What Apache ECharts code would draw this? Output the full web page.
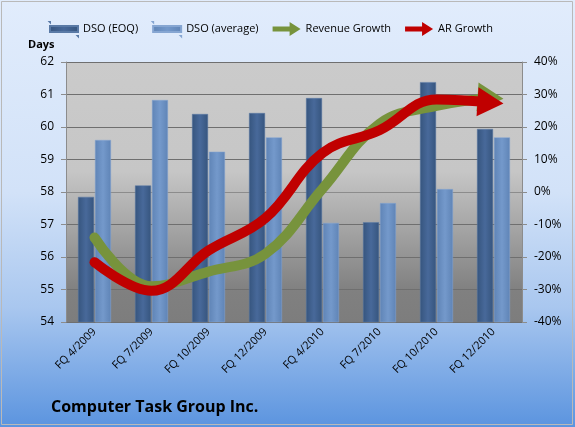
<!DOCTYPE html>
<html>
<head>
<meta charset="utf-8">
<script src="https://cdn.jsdelivr.net/npm/echarts@6/dist/echarts.min.js"></script>
<style>
  html, body { margin: 0; padding: 0; }
  #main { width: 575px; height: 427px; }
</style>
</head>
<body>
<div id="main"></div>
<script>
// 数据
const quarters = ['FQ 4/2009', 'FQ 7/2009', 'FQ 10/2009', 'FQ 12/2009', 'FQ 4/2010', 'FQ 7/2010', 'FQ 10/2010', 'FQ 12/2010']
const dsoEoq = [57.85, 58.2, 60.4, 60.43, 60.89, 57.07, 61.38, 59.94]
const dsoAvg = [59.6, 60.83, 59.24, 59.68, 57.05, 57.66, 58.09, 59.68]
const revenueGrowth = [-14, -29, -24.5, -19, 1, 21, 26.5, 29]
const arGrowth = [-21.6, -30.4, -18, -8, 12, 19, 28.5, 27.5]

const font = 'Open Sans'
const arrowPath = 'path://M0,0L26,14.5L0,29Z'

// 第一个点画圆头，最后一个点画箭头
function withEnds(values) {
  return values.map((v, i) => {
    if (i === 0) return { value: v, symbol: 'circle', symbolSize: 10 }
    if (i < values.length - 1) return v
    return { value: v, symbol: arrowPath, symbolSize: [26, 29], symbolOffset: [-3, 0], symbolRotate: -4 }
  })
}

function barGrad(c1, c2) {
  return new echarts.graphic.LinearGradient(0, 0, 1, 0, [
    { offset: 0, color: c1 }, { offset: 0.5, color: c2 }, { offset: 1, color: c1 }
  ])
}

const barIcon = 'path://M0,0h0.01v0.01zM0,4h28v6h-28zM27.99,13.99h0.01v0.01z'
const arrowIcon = 'path://M0,4.5h17v-4.5l11,7l-11,7v-4.5h-17z'

let myChart = echarts.init(document.getElementById('main'))

const option = {
  animation: false,
  backgroundColor: new echarts.graphic.LinearGradient(0, 0, 0, 1, [
    { offset: 0, color: '#e1ecfc' },
    { offset: 0.45, color: '#d2e2f8' },
    { offset: 0.72, color: '#a9c7ef' },
    { offset: 1, color: '#5b94df' }
  ]),
  textStyle: { fontFamily: font },
  graphic: [
    { type: 'rect', shape: { x: 1.5, y: 1.5, width: 571, height: 423 }, style: { fill: 'none', stroke: '#b9b9b9', lineWidth: 1 } },
    { type: 'text', left: 28, top: 39, style: { text: 'Days', font: 'bold 11px "Open Sans"', fill: '#000' } },
    { type: 'text', left: 51, top: 399, style: { text: 'Computer Task Group Inc.', font: 'bold 16px "Open Sans"', fill: '#000' } }
  ],
  legend: {
    left: 44,
    top: 16,
    itemGap: 14,
    itemWidth: 28,
    itemHeight: 14,
    textStyle: { fontFamily: font, fontSize: 11, color: '#000' },
    data: [
      { name: 'DSO (EOQ)', icon: barIcon },
      { name: 'DSO (average)', icon: barIcon },
      { name: 'Revenue Growth', icon: arrowIcon },
      { name: 'AR Growth', icon: arrowIcon }
    ]
  },
  grid: {
    left: 66,
    right: 53,
    top: 62,
    bottom: 105,
    show: true,
    borderWidth: 0,
    backgroundColor: new echarts.graphic.LinearGradient(0, 0, 0, 1, [
      { offset: 0, color: '#cbcbcb' },
      { offset: 0.42, color: '#c6c6c6' },
      { offset: 0.88, color: '#808080' },
      { offset: 1, color: '#7d7d7d' }
    ])
  },
  xAxis: {
    type: 'category',
    data: quarters,
    axisLine: { lineStyle: { color: '#8c8c8c' } },
    axisTick: { length: 5, lineStyle: { color: '#8c8c8c' } },
    axisLabel: { rotate: 45, fontSize: 11, color: '#000', margin: 8, interval: 0 }
  },
  yAxis: [
    {
      type: 'value',
      min: 54,
      max: 62,
      interval: 1,
      axisLine: { show: true, lineStyle: { color: '#8c8c8c' } },
      axisTick: { show: true, length: 5, lineStyle: { color: '#8c8c8c' } },
      axisLabel: { fontSize: 12, color: '#000', margin: 12 },
      splitLine: { lineStyle: { color: '#6f6f6f' } }
    },
    {
      type: 'value',
      min: -40,
      max: 40,
      interval: 10,
      position: 'right',
      axisLine: { show: true, lineStyle: { color: '#8c8c8c' } },
      axisTick: { show: true, length: 5, lineStyle: { color: '#8c8c8c' } },
      axisLabel: { fontSize: 12, color: '#000', margin: 12, formatter: '{value}%' },
      splitLine: { show: false }
    }
  ],
  series: [
    {
      name: 'DSO (EOQ)',
      type: 'bar',
      data: dsoEoq,
      barWidth: 16,
      barGap: '6%',
      itemStyle: { color: barGrad('#36557e', '#48699a'), borderColor: '#5a7aa6', borderWidth: 0.5 }
    },
    {
      name: 'DSO (average)',
      type: 'bar',
      data: dsoAvg,
      barWidth: 16,
      itemStyle: { color: barGrad('#5f84b6', '#7499cb'), borderColor: '#86a6d2', borderWidth: 0.5 }
    },
    {
      name: 'Revenue Growth',
      type: 'line',
      yAxisIndex: 1,
      data: withEnds(revenueGrowth),
      smooth: 0.4,
      showSymbol: true,
      symbol: 'none',
      color: '#77933c',
      lineStyle: { width: 10, color: '#77933c', cap: 'butt' },
      itemStyle: { color: '#77933c' },
      z: 3
    },
    {
      name: 'AR Growth',
      type: 'line',
      yAxisIndex: 1,
      data: withEnds(arGrowth),
      smooth: 0.4,
      showSymbol: true,
      symbol: 'none',
      color: '#c00000',
      lineStyle: { width: 10, color: '#c00000', cap: 'butt' },
      itemStyle: { color: '#c00000' },
      z: 4
    }
  ]
}

myChart.setOption(option)
window.onresize = function () {
  myChart.resize()
}
</script>
</body>
</html>
